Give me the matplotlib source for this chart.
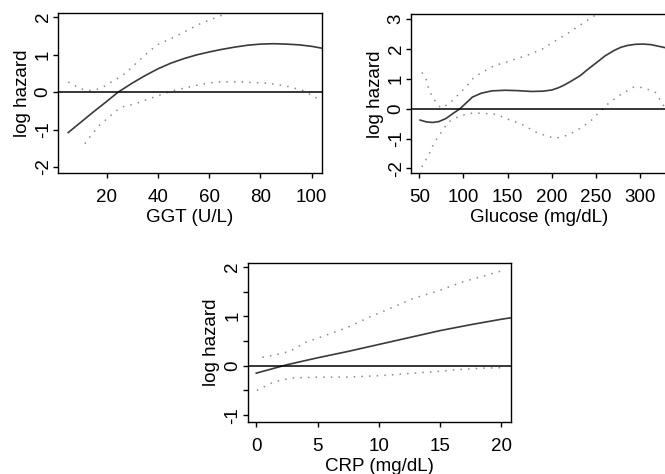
import matplotlib
matplotlib.use("Agg")
import matplotlib.pyplot as plt

plt.rcParams["font.family"] = ["Liberation Sans", "DejaVu Sans"]
plt.rcParams["font.size"] = 13.5

# GGT panel
ggt_x = [5, 10, 15, 20, 24.5, 30, 35, 40, 45, 50, 55, 60, 65, 70, 75, 80, 85, 90, 95, 100, 104]
ggt_y = [-1.08, -0.8, -0.52, -0.25, 0.0, 0.24, 0.44, 0.62, 0.77, 0.89, 0.99, 1.07, 1.14, 1.2,
         1.25, 1.28, 1.29, 1.28, 1.26, 1.22, 1.17]
ggt_up_x = [5, 7.5, 9.5, 13.5, 16.1, 20, 21.3, 25.2, 27.8, 32, 34.8, 39.5, 47.3, 56.4, 64.9, 70]
ggt_up_y = [0.27, 0.18, 0.09, 0.04, 0.07, 0.18, 0.25, 0.4, 0.53, 0.8, 0.98, 1.25, 1.5, 1.82, 2.05, 2.2]
ggt_lo_x = [11.5, 12.8, 17.1, 23.9, 26.8, 30.3, 39.5, 46, 56.4, 62.9, 72, 82.4, 90.2, 96.7, 101.9]
ggt_lo_y = [-1.38, -1.25, -0.89, -0.49, -0.38, -0.33, -0.11, 0.04, 0.2, 0.27, 0.27, 0.24, 0.16,
            0.04, -0.16]

# Glucose panel
glu_x = [51, 58, 65, 72, 80, 88, 96, 105, 110, 120, 132, 147, 160, 177, 190, 200, 207, 213, 222,
         232, 241, 251, 260, 270, 278, 285, 294, 303, 312, 320, 331]
glu_y = [-0.38, -0.44, -0.46, -0.43, -0.33, -0.16, 0.0, 0.25, 0.39, 0.52, 0.6, 0.62, 0.61, 0.58,
         0.59, 0.63, 0.7, 0.78, 0.93, 1.11, 1.33, 1.56, 1.77, 1.95, 2.06, 2.12, 2.16, 2.17, 2.15,
         2.1, 2.03]
glu_up_x = [53, 58, 60.6, 64, 67.4, 71, 75, 85, 95, 100, 106, 112, 117, 121, 126, 135, 141, 150,
            160, 170, 180, 189, 198, 208, 218, 228, 245, 255]
glu_up_y = [1.22, 0.97, 0.67, 0.45, 0.28, 0.13, 0.02, 0.2, 0.5, 0.65, 0.84, 1.06, 1.15, 1.22, 1.3,
            1.45, 1.5, 1.58, 1.68, 1.77, 1.89, 2.0, 2.17, 2.35, 2.53, 2.73, 3.06, 3.25]
glu_lo_x = [53, 62, 66, 71, 77, 82, 88, 95, 106, 120, 131, 137, 151, 161, 171, 179, 189, 198.6,
            208, 217, 227, 232, 244, 247, 255, 262, 270, 279, 288, 292, 300, 306, 312, 317, 325,
            328, 331]
glu_lo_y = [-1.95, -1.47, -1.19, -0.95, -0.7, -0.47, -0.35, -0.26, -0.15, -0.15, -0.17, -0.19,
            -0.36, -0.47, -0.59, -0.75, -0.86, -0.95, -0.97, -0.89, -0.75, -0.65, -0.41, -0.3,
            -0.09, 0.13, 0.31, 0.5, 0.65, 0.72, 0.72, 0.68, 0.61, 0.55, 0.17, 0.03, -0.05]

# CRP panel
crp_x = [0, 2.5, 5, 7.5, 10, 12.5, 15, 17.5, 20, 20.8]
crp_y = [-0.15, 0.02, 0.16, 0.29, 0.43, 0.57, 0.71, 0.83, 0.94, 0.97]
crp_up_x = [0.5, 1.96, 2.8, 4.1, 5.5, 7.4, 9.3, 11.5, 12.8, 14.7, 16.9, 18.8, 20.2]
crp_up_y = [0.17, 0.24, 0.3, 0.48, 0.6, 0.77, 0.99, 1.22, 1.36, 1.5, 1.7, 1.83, 1.93]
crp_lo_x = [0.05, 1.4, 2.8, 5.0, 7.4, 10.2, 12.8, 15.1, 16.4, 18.3, 20.2]
crp_lo_y = [-0.5, -0.33, -0.25, -0.23, -0.23, -0.2, -0.15, -0.11, -0.08, -0.05, -0.04]


def panel(ax, x, y, up_x, up_y, lo_x, lo_y, xlim, ylim, xticks, yticks, ylabels, xlabel):
    ax.plot(x, y, color="#3a3a3a", lw=1.2)
    ax.plot(up_x, up_y, color="#8a8a8a", lw=1.1, linestyle=(0, (1, 4)))
    ax.plot(lo_x, lo_y, color="#8a8a8a", lw=1.1, linestyle=(0, (1, 4)))
    ax.axhline(0, color="black", lw=1.1)
    ax.set_xlim(*xlim)
    ax.set_ylim(*ylim)
    ax.set_xticks(xticks)
    ax.set_yticks(yticks)
    ax.set_yticklabels(ylabels)
    ax.set_xlabel(xlabel, labelpad=2)
    ax.set_ylabel("log hazard", labelpad=3)
    ax.tick_params(axis="both", direction="out", length=3.5, width=1.0)
    ax.tick_params(axis="x", pad=8)
    ax.tick_params(axis="y", pad=1, labelrotation=90)
    for lbl in ax.get_yticklabels():
        lbl.set_va("center")
    for s in ax.spines.values():
        s.set_linewidth(1.0)


fig = plt.figure(figsize=(6.65, 4.74), dpi=100)

ax1 = fig.add_axes([0.0872, 0.635, 0.397, 0.3376])
panel(ax1, ggt_x, ggt_y, ggt_up_x, ggt_up_y, ggt_lo_x, ggt_lo_y,
      (1, 104), (-2.16, 2.11), [20, 40, 60, 80, 100], [-2, -1, 0, 1, 2],
      ["-2", "-1", "0", "1", "2"], "GGT (U/L)")

ax2 = fig.add_axes([0.618, 0.634, 0.3865, 0.336])
panel(ax2, glu_x, glu_y, glu_up_x, glu_up_y, glu_lo_x, glu_lo_y,
      (40.6, 331.3), (-2.17, 3.17), [50, 100, 150, 200, 250, 300], [-2, -1, 0, 1, 2, 3],
      ["-2", "-1", "0", "1", "2", "3"], "Glucose (mg/dL)")
ax2.spines["right"].set_visible(False)

ax3 = fig.add_axes([0.3725, 0.110, 0.396, 0.3354])
panel(ax3, crp_x, crp_y, crp_up_x, crp_up_y, crp_lo_x, crp_lo_y,
      (-0.7, 20.8), (-1.135, 2.08), [0, 5, 10, 15, 20], [-1, -0.5, 0, 0.5, 1, 1.5, 2],
      ["-1", "", "0", "", "1", "", "2"], "CRP (mg/dL)")

fig.savefig("out.png", dpi=100)
